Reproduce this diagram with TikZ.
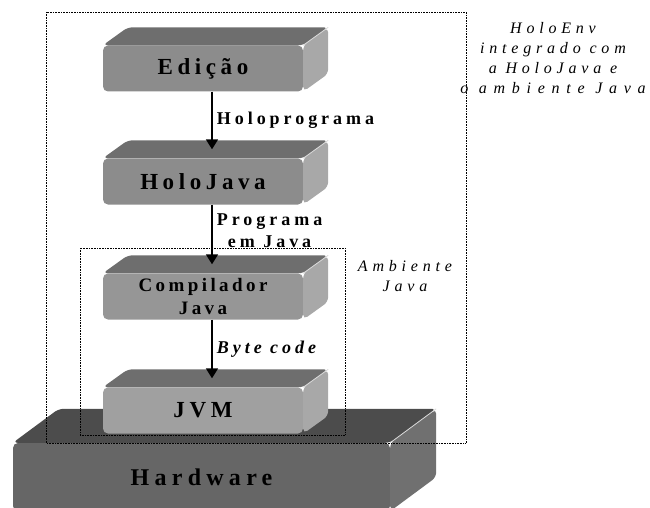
\documentclass[tikz,border=0pt]{standalone}
\usepackage{fontspec}
\setmainfont{Liberation Serif}
\usetikzlibrary{arrows.meta,calc}

\definecolor{slabfront}{HTML}{8C8C8C}
\definecolor{compfront}{HTML}{969696}
\definecolor{jvmfront}{HTML}{A0A0A0}
\definecolor{slabtop}{HTML}{6E6E6E}
\definecolor{slabside}{HTML}{A8A8A8}
\definecolor{hwfront}{HTML}{666666}
\definecolor{hwtop}{HTML}{4C4C4C}
\definecolor{hwside}{HTML}{707070}

\newcommand{\slabfont}{\fontsize{23}{25}\selectfont\bfseries\addfontfeatures{LetterSpace=20}}
\newcommand{\smallslabfont}{\fontsize{19}{23}\selectfont\bfseries\addfontfeatures{LetterSpace=18}}
\newcommand{\hwfont}{\fontsize{24}{26}\selectfont\bfseries\addfontfeatures{LetterSpace=22}}
\newcommand{\flowfont}{\fontsize{18}{22}\selectfont\bfseries\addfontfeatures{LetterSpace=22}}
\newcommand{\envfont}{\fontsize{16}{20}\selectfont\itshape\addfontfeatures{LetterSpace=30}}

% top and side faces of a slab: name, depth x, depth y, top colour, side colour
\newcommand{\slabfaces}[5]{%
  \fill[#4,rounded corners=5pt] (#1.north west) -- ++(#2,-#3) -- ($(#1.north east)+(#2,-#3)$) -- (#1.north east) -- cycle;
  \fill[#5,rounded corners=5pt] (#1.north east) -- ++(#2,-#3) -- ($(#1.south east)+(#2,-#3)$) -- (#1.south east) -- cycle;
  \draw[white!70!gray,line width=0.8pt] (#1.north east) -- ++(#2,-#3);
}

\begin{document}
\begin{tikzpicture}[x=1pt,y=-1pt,
    slab/.style={rounded corners=5pt, minimum width=200pt, minimum height=46pt, inner sep=0pt, align=center, font=\slabfont},
    flow/.style={line width=1.8pt, -{Triangle[length=10pt,width=12pt]}},
    flowlabel/.style={right, inner sep=4pt, align=center, font=\flowfont},
    envbox/.style={densely dotted, line width=0.6pt},
    envlabel/.style={align=center, font=\envfont}]

    \useasboundingbox (0,0) rectangle (650,508);

    % slabs, from the bottom up
    \node[slab, fill=hwfront, minimum width=377pt, minimum height=68pt, font=\hwfont] (hardware) at (201.5,477) {Hardware};
    \slabfaces{hardware}{46}{34}{hwtop}{hwside}

    \node[slab, fill=jvmfront] (jvm) at (203,410.5) {JVM};
    \slabfaces{jvm}{25}{18}{slabtop}{slabside}

    \node[slab, fill=compfront, font=\smallslabfont] (compilador) at (203,296.5) {Compilador\\Java};
    \slabfaces{compilador}{25}{18}{slabtop}{slabside}

    \node[slab, fill=slabfront] (holojava) at (203,181.5) {HoloJava};
    \slabfaces{holojava}{25}{18}{slabtop}{slabside}

    \node[slab, fill=slabfront] (edicao) at (203,68.5) {Edição};
    \slabfaces{edicao}{25}{18}{slabtop}{slabside}

    % arrow tips land on the top faces
    \coordinate (holojava-top) at ($(holojava.north)+(9,-9)$);
    \coordinate (compilador-top) at ($(compilador.north)+(9,-9)$);
    \coordinate (jvm-top) at ($(jvm.north)+(9,-9)$);

    \draw[flow] ([xshift=9pt]edicao.south) -- (holojava-top) node[flowlabel, midway] {Holoprograma};
    \draw[flow] ([xshift=9pt]holojava.south) -- (compilador-top) node[flowlabel, midway, yshift=4pt] {Programa\\em Java};
    \draw[flow] ([xshift=9pt]compilador.south) -- (jvm-top) node[flowlabel, midway, font=\flowfont\itshape] {Byte code};

    % environments
    \draw[envbox] (46,12) rectangle (466,443);
    \draw[envbox] (80,248) rectangle (345,435);
    \node[envlabel] (holoenv-label) at (553,58) {HoloEnv\\integrado com\\a HoloJava e\\{\addfontfeatures{LetterSpace=42}o ambiente Java}};
    \node[envlabel] (ambiente-label) at (405,276) {Ambiente\\Java};
\end{tikzpicture}
\end{document}
